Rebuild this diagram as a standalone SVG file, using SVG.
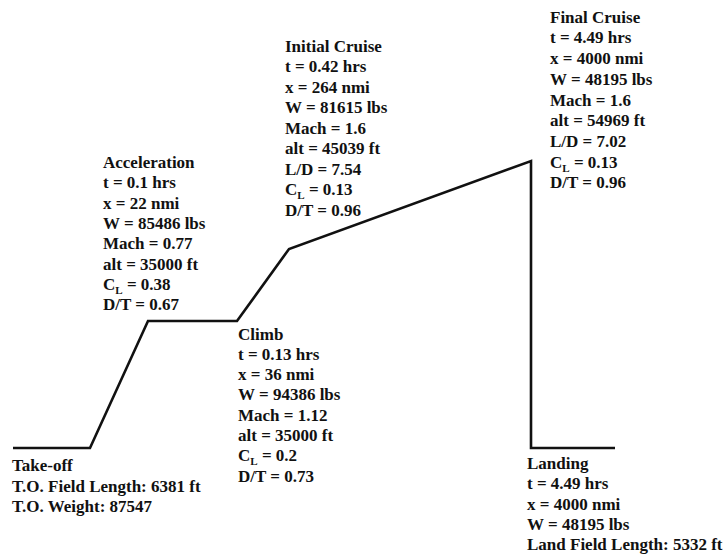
<svg xmlns="http://www.w3.org/2000/svg" width="725" height="554" viewBox="0 0 725 554">
<style>
text{font-family:"Liberation Serif","Times New Roman",serif;font-weight:bold;font-size:17px;fill:#111}
.sub{font-size:11px}
.path{fill:none;stroke:#111;stroke-width:2.6;stroke-linejoin:miter}
</style>
<rect width="725" height="554" fill="#fff"/>
<g id="connectors">
<polyline class="path" points="13,448 90,448 148,321 237,321 289,249 531,161 531,448 615,448"/>
</g>
<g id="takeoff">
<text x="12" y="471">Take-off</text>
<text x="12" y="491.5">T.O. Field Length: 6381 ft</text>
<text x="12" y="512">T.O. Weight: 87547</text>
</g>
<g id="acceleration">
<text x="103" y="168">Acceleration</text>
<text x="103" y="188.3">t = 0.1 hrs</text>
<text x="103" y="208.6">x = 22 nmi</text>
<text x="103" y="228.9">W = 85486 lbs</text>
<text x="103" y="249.2">Mach = 0.77</text>
<text x="103" y="269.5">alt = 35000 ft</text>
<text x="103" y="289.8">C<tspan class="sub" dy="4">L</tspan><tspan dy="-4"> = 0.38</tspan></text>
<text x="103" y="310.1">D/T = 0.67</text>
</g>
<g id="climb">
<text x="238" y="339.5">Climb</text>
<text x="238" y="359.8">t = 0.13 hrs</text>
<text x="238" y="380.1">x = 36 nmi</text>
<text x="238" y="400.4">W = 94386 lbs</text>
<text x="238" y="420.7">Mach = 1.12</text>
<text x="238" y="441">alt = 35000 ft</text>
<text x="238" y="461.3">C<tspan class="sub" dy="4">L</tspan><tspan dy="-4"> = 0.2</tspan></text>
<text x="238" y="481.6">D/T = 0.73</text>
</g>
<g id="initial-cruise">
<text x="285" y="51.7">Initial Cruise</text>
<text x="285" y="72.2">t = 0.42 hrs</text>
<text x="285" y="92.7">x = 264 nmi</text>
<text x="285" y="113.2">W = 81615 lbs</text>
<text x="285" y="133.7">Mach = 1.6</text>
<text x="285" y="154.2">alt = 45039 ft</text>
<text x="285" y="174.7">L/D = 7.54</text>
<text x="285" y="195.2">C<tspan class="sub" dy="4">L</tspan><tspan dy="-4"> = 0.13</tspan></text>
<text x="285" y="215.7">D/T = 0.96</text>
</g>
<g id="final-cruise">
<text x="550" y="22.7">Final Cruise</text>
<text x="550" y="43.4">t = 4.49 hrs</text>
<text x="550" y="64.1">x = 4000 nmi</text>
<text x="550" y="84.8">W = 48195 lbs</text>
<text x="550" y="105.5">Mach = 1.6</text>
<text x="550" y="126.2">alt = 54969 ft</text>
<text x="550" y="146.9">L/D = 7.02</text>
<text x="550" y="167.6">C<tspan class="sub" dy="4">L</tspan><tspan dy="-4"> = 0.13</tspan></text>
<text x="550" y="188.3">D/T = 0.96</text>
</g>
<g id="landing">
<text x="527" y="468.5">Landing</text>
<text x="527" y="489">t = 4.49 hrs</text>
<text x="527" y="509.5">x = 4000 nmi</text>
<text x="527" y="530">W = 48195 lbs</text>
<text x="527" y="549.5">Land Field Length: 5332 ft</text>
</g>
</svg>
